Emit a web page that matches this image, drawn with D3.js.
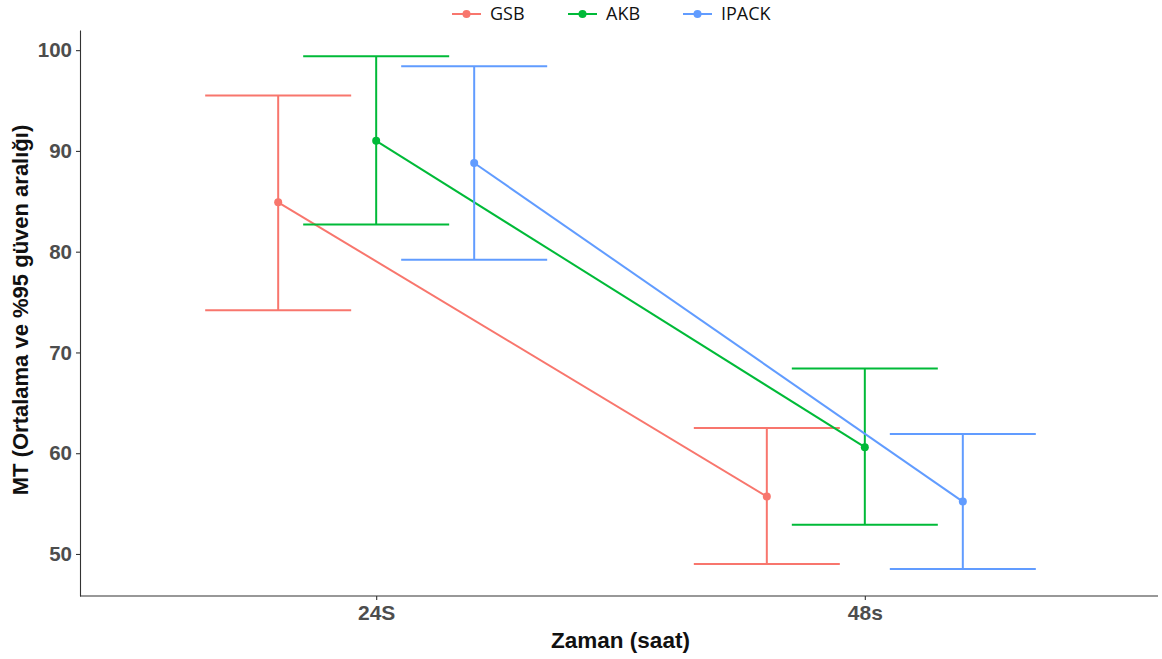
<!DOCTYPE html>
<html>
<head>
<meta charset="utf-8">
<script src="https://cdn.jsdelivr.net/npm/d3@7"></script>
<style>
  html, body { margin: 0; padding: 0; background: #fff; }
  svg { display: block; }
</style>
</head>
<body>
<svg id="chart" width="1162" height="659"></svg>
<script>
// Time points and groups
const times = ["24S", "48s"];
const groups = ["GSB", "AKB", "IPACK"];
const colors = ["#F8766D", "#00BA38", "#619CFF"];

// Mean and 95% CI per group, ordered by time
const meanGSB = [84.9, 55.7];
const lowGSB = [74.2, 49.0];
const highGSB = [95.5, 62.5];

const meanAKB = [91.0, 60.6];
const lowAKB = [82.7, 52.9];
const highAKB = [99.4, 68.4];

const meanIPACK = [88.8, 55.2];
const lowIPACK = [79.2, 48.5];
const highIPACK = [98.4, 61.9];

const yTicks = [50, 60, 70, 80, 90, 100];

const series = [
  { name: "GSB", mean: meanGSB, low: lowGSB, high: highGSB },
  { name: "AKB", mean: meanAKB, low: lowAKB, high: highAKB },
  { name: "IPACK", mean: meanIPACK, low: lowIPACK, high: highIPACK }
];

const svg = d3.select("#chart");
const margin = { left: 80, right: 4, top: 30, bottom: 63 };
const W = 1162, H = 659;
const plotW = W - margin.left - margin.right;
const plotH = H - margin.top - margin.bottom;
const font = "Liberation Sans, Arial, sans-serif";

const color = d3.scaleOrdinal().domain(groups).range(colors);

const x = d3.scalePoint().domain(times).range([3, plotW]).padding(0.6);
const dodge = d3.scalePoint().domain(groups).range([-98, 98]);
const y = d3.scaleLinear().domain([45.83, 102.0]).range([plotH, 0]);
const capHalf = 73;

const g = svg.append("g").attr("transform", `translate(${margin.left},${margin.top})`);

// Axes
const axisColor = "#333";
const yAxis = g.append("g")
  .call(d3.axisLeft(y).tickValues(yTicks).tickSize(4).tickSizeOuter(0).tickPadding(4));
const xAxis = g.append("g").attr("transform", `translate(0,${plotH})`)
  .call(d3.axisBottom(x).tickSize(4).tickSizeOuter(0).tickPadding(5));
// bottom axis line spans the full panel width
xAxis.select(".domain").attr("d", `M0,0H${plotW}`);
[xAxis, yAxis].forEach(a => {
  a.select(".domain").attr("stroke", axisColor).attr("stroke-width", 1.1);
  a.selectAll(".tick line").attr("stroke", axisColor).attr("stroke-width", 1.1);
  a.selectAll(".tick text")
    .attr("fill", "#4D4D4D")
    .attr("font-family", font)
    .attr("font-weight", "bold");
});
yAxis.selectAll(".tick text").attr("font-size", 20.5);
xAxis.selectAll(".tick text").attr("font-size", 21);

// Error bars, lines and points
series.forEach(s => {
  const c = color(s.name);
  const xs = t => x(t) + dodge(s.name);
  const sg = g.append("g");
  const pts = times.map((t, i) => ({ t, m: s.mean[i], lo: s.low[i], hi: s.high[i] }));

  sg.selectAll("line.whisk").data(pts).enter().append("line")
    .attr("x1", d => xs(d.t)).attr("x2", d => xs(d.t))
    .attr("y1", d => y(d.lo)).attr("y2", d => y(d.hi))
    .attr("stroke", c).attr("stroke-width", 2);
  sg.selectAll("line.capHi").data(pts).enter().append("line")
    .attr("x1", d => xs(d.t) - capHalf).attr("x2", d => xs(d.t) + capHalf)
    .attr("y1", d => y(d.hi)).attr("y2", d => y(d.hi))
    .attr("stroke", c).attr("stroke-width", 2);
  sg.selectAll("line.capLo").data(pts).enter().append("line")
    .attr("x1", d => xs(d.t) - capHalf).attr("x2", d => xs(d.t) + capHalf)
    .attr("y1", d => y(d.lo)).attr("y2", d => y(d.lo))
    .attr("stroke", c).attr("stroke-width", 2);

  sg.append("path").datum(pts)
    .attr("fill", "none").attr("stroke", c).attr("stroke-width", 2)
    .attr("d", d3.line().x(d => xs(d.t)).y(d => y(d.m)));

  sg.selectAll("circle").data(pts).enter().append("circle")
    .attr("cx", d => xs(d.t)).attr("cy", d => y(d.m)).attr("r", 4)
    .attr("fill", c);
});

// Axis titles
svg.append("text")
  .attr("x", margin.left + (x("24S") + x("48s")) / 2)
  .attr("y", 648)
  .attr("text-anchor", "middle")
  .attr("font-family", font)
  .attr("font-weight", "bold").attr("font-size", 22.5)
  .attr("fill", "#111")
  .text("Zaman (saat)");

svg.append("text")
  .attr("transform", `translate(28,${310}) rotate(-90)`)
  .attr("text-anchor", "middle")
  .attr("font-family", font)
  .attr("font-weight", "bold").attr("font-size", 22)
  .attr("fill", "#111")
  .text("MT (Ortalama ve %95 güven aralığı)");

// Legend
const legendX = [452, 568, 683];
const leg = svg.append("g");
groups.forEach((name, i) => {
  const lg = leg.append("g").attr("transform", `translate(${legendX[i]},14)`);
  lg.append("line").attr("x1", 0).attr("x2", 29).attr("y1", 0).attr("y2", 0)
    .attr("stroke", color(name)).attr("stroke-width", 2);
  lg.append("circle").attr("cx", 14.5).attr("cy", 0).attr("r", 4).attr("fill", color(name));
  lg.append("text").attr("x", 38).attr("y", 0).attr("dy", "0.35em")
    .attr("font-family", "Open Sans, Liberation Sans, sans-serif")
    .attr("font-size", 18).attr("fill", "#111")
    .text(name);
});
</script>
</body>
</html>
